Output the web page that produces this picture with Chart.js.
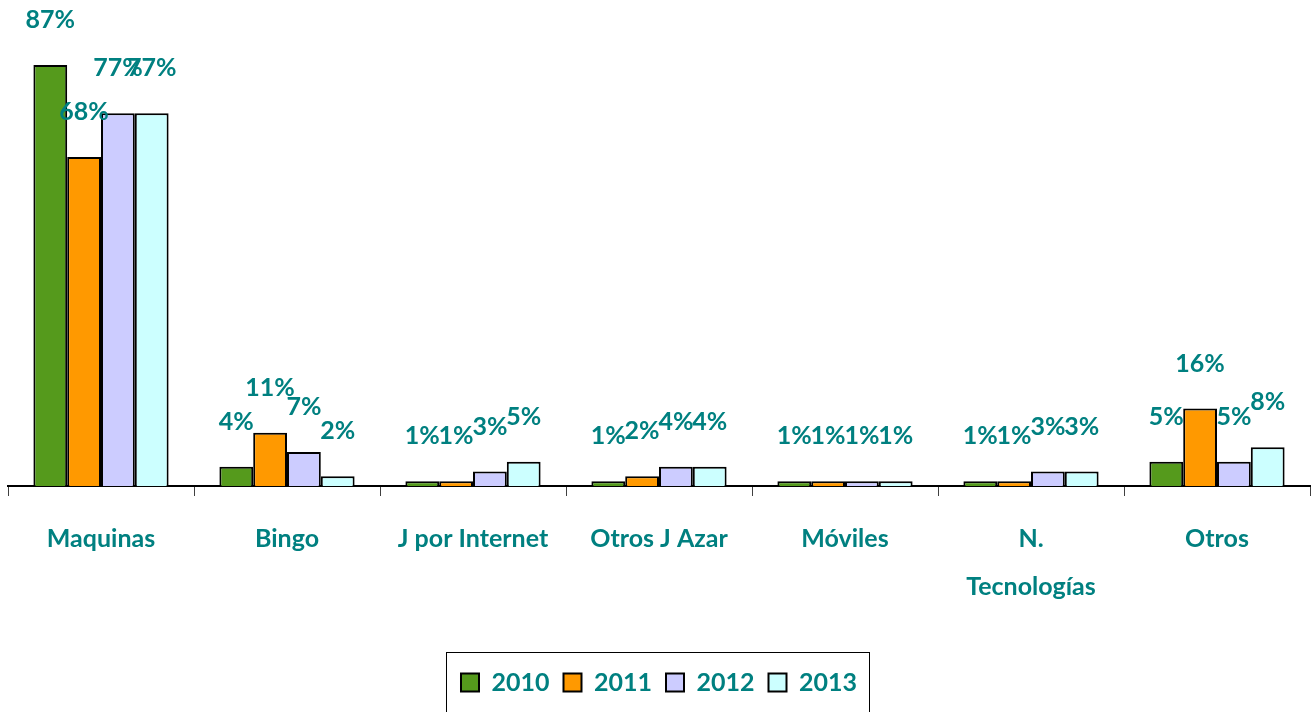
<!DOCTYPE html>
<html>
<head>
<meta charset="utf-8">
<script src="https://cdn.jsdelivr.net/npm/chart.js@4/dist/chart.umd.min.js"></script>
<style>
  body { margin: 0; background: #fff; }
</style>
</head>
<body>
<canvas id="grafico" width="1315" height="712"></canvas>
<script>
const categorias = ['Maquinas', 'Bingo', 'J por Internet', 'Otros J Azar', 'Móviles', ['N.', 'Tecnologías'], 'Otros'];
const anios = ['2010', '2011', '2012', '2013'];
const datos2010 = [87, 4, 1, 1, 1, 1, 5];
const datos2011 = [68, 11, 1, 2, 1, 1, 16];
const datos2012 = [77, 7, 3, 4, 1, 3, 5];
const datos2013 = [77, 2, 5, 4, 1, 3, 8];
const colores = ['#559A1C', '#FF9900', '#CCCCFF', '#CCFFFF'];

const TEAL = '#008080';
const FUENTE = 'Lato, "Open Sans", sans-serif';

// etiquetas de porcentaje encima de cada barra
const etiquetas = {
  id: 'etiquetas',
  afterDatasetsDraw(chart) {
    const ctx = chart.ctx;
    ctx.save();
    ctx.font = 'bold 25px ' + FUENTE;
    ctx.fillStyle = TEAL;
    ctx.textAlign = 'center';
    ctx.textBaseline = 'middle';
    chart.data.datasets.forEach((ds, i) => {
      chart.getDatasetMeta(i).data.forEach((bar, j) => {
        ctx.fillText(ds.data[j] + '%', bar.x, bar.y - 45);
      });
    });
    ctx.restore();
  }
};

// marco alrededor de la leyenda
const marcoLeyenda = {
  id: 'marcoLeyenda',
  afterDraw(chart) {
    const cajas = chart.legend.legendHitBoxes;
    if (!cajas || !cajas.length) return;
    let izq = Math.min(...cajas.map(c => c.left));
    let der = Math.max(...cajas.map(c => c.left + c.width));
    let arriba = Math.min(...cajas.map(c => c.top));
    const ctx = chart.ctx;
    ctx.save();
    ctx.strokeStyle = '#000';
    ctx.lineWidth = 1;
    ctx.strokeRect(izq - 14.5, arriba - 17.5, der - izq + 27, 80);
    ctx.restore();
  }
};

const series = [datos2010, datos2011, datos2012, datos2013].map((d, i) => ({
  label: anios[i],
  data: d,
  backgroundColor: colores[i],
  borderColor: '#000',
  borderWidth: 2,
  categoryPercentage: 0.727,
  barPercentage: 1.0
}));

new Chart(document.getElementById('grafico'), {
  type: 'bar',
  data: { labels: categorias, datasets: series },
  options: {
    responsive: false,
    animation: false,
    layout: { padding: { left: 8, right: 5, top: 2, bottom: 7 } },
    plugins: {
      legend: {
        position: 'bottom',
        labels: {
          color: TEAL,
          font: { family: FUENTE, size: 25, weight: 'bold' },
          boxWidth: 18,
          boxHeight: 18,
          padding: 14
        }
      },
      tooltip: { enabled: false }
    },
    scales: {
      x: {
        grid: {
          display: true,
          drawOnChartArea: false,
          drawTicks: true,
          tickLength: 10,
          color: '#404040',
          offset: true
        },
        border: { display: true, color: '#000', width: 2 },
        ticks: {
          color: TEAL,
          font: { family: FUENTE, size: 25, weight: 'bold', lineHeight: 1.92 },
          padding: 19,
          maxRotation: 0,
          autoSkip: false
        },
        afterFit(scale) { scale.height = 170; }
      },
      y: {
        display: false,
        min: 0,
        max: 100
      }
    }
  },
  plugins: [etiquetas, marcoLeyenda]
});
</script>
</body>
</html>
